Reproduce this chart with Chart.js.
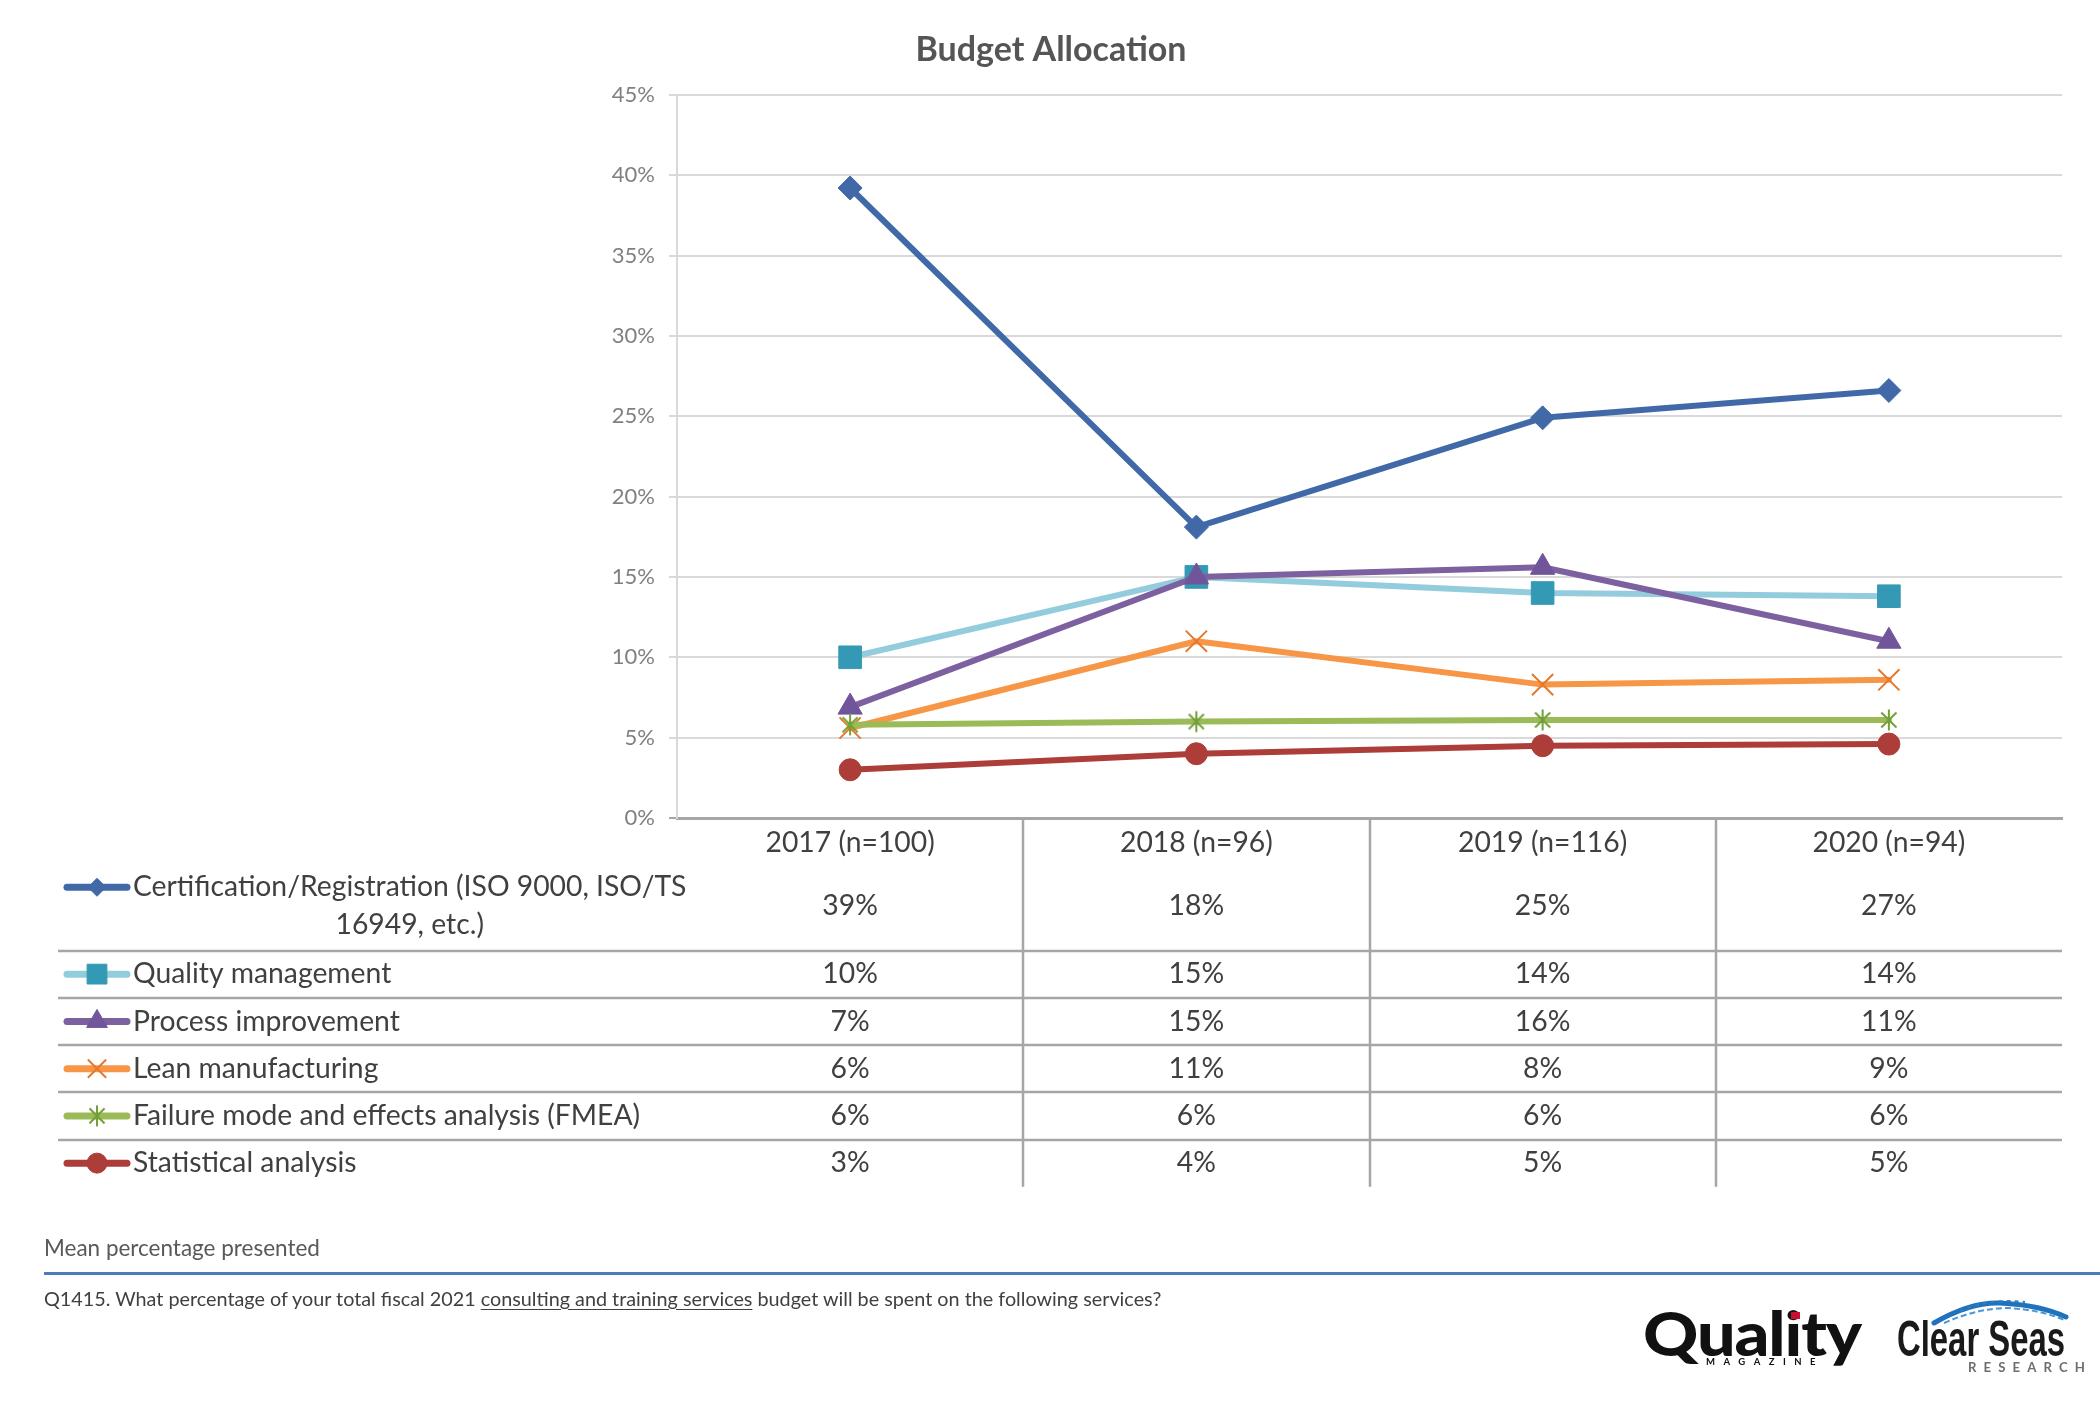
<!DOCTYPE html>
<html>
<head>
<meta charset="utf-8">
<script src="https://cdn.jsdelivr.net/npm/chart.js@4.4.1/dist/chart.umd.min.js"></script>
<style>
html,body{margin:0;padding:0;background:#fff;width:2100px;height:1406px;overflow:hidden;font-family:Lato,'Open Sans',sans-serif;}
#wrap{position:relative;width:2100px;height:1406px;}
#c{position:absolute;left:0;top:0;}
.ft{position:absolute;white-space:nowrap;line-height:1;transform-origin:0 0;}
#note{left:44px;color:#595959;}
#q{left:44px;color:#404040;}
#q u{text-decoration-thickness:1px;text-underline-offset:3px;}
#rule{position:absolute;left:44px;right:0;top:1272px;height:3px;background:#4a7ebb;}
#logoQ{left:1643px;font-weight:900;color:#111;letter-spacing:-1px;}
#logoDot{position:absolute;left:1791px;top:1312px;width:9px;height:7px;background:#c8102e;}
#logoMag{left:1706px;font-weight:700;color:#111;letter-spacing:8px;}
#logoCS{left:1897px;font-family:'Liberation Sans Narrow','Liberation Sans',Arial,sans-serif;font-weight:700;color:#1a1a1a;}
#logoR{left:1968px;font-weight:700;color:#6d6e70;letter-spacing:7px;}
#wave{position:absolute;left:1930px;top:1296px;}
</style>
</head>
<body>
<div id="wrap">
<canvas id="c" width="2100" height="1406"></canvas>
<div class="ft" id="note">Mean percentage presented</div>
<div id="rule"></div>
<div class="ft" id="q">Q1415. What percentage of your total fiscal 2021 <u>consulting and training services</u> budget will be spent on the following services?</div>
<div class="ft" id="logoQ">Quality</div>
<div id="logoDot"></div>
<div class="ft" id="logoMag">MAGAZINE</div>
<svg id="wave" width="140" height="32" viewBox="0 0 140 32">
  <path d="M4 27 Q 40 6 70 7 Q 110 9 136 21" fill="none" stroke="#1f72bb" stroke-width="5" stroke-linecap="round"/>
  <path d="M14 27 Q 48 12 78 12 Q 112 14 134 24" fill="none" stroke="#4a97d4" stroke-width="2" stroke-dasharray="6 3"/>
  <path d="M30 15 Q 60 2 95 6" fill="none" stroke="#2a7fc4" stroke-width="2" stroke-dasharray="4 4"/>
</svg>
<div class="ft" id="logoCS">Clear Seas</div>
<div class="ft" id="logoR">RESEARCH</div>
</div>
<script>
// ---------- data ----------
const chartTitle = 'Budget Allocation';
const categories = ['2017 (n=100)', '2018 (n=96)', '2019 (n=116)', '2020 (n=94)'];
const certificationRegistration = [39.2, 18.1, 24.9, 26.6];
const qualityManagement = [10.0, 15.0, 14.0, 13.8];
const processImprovement = [6.9, 15.0, 15.6, 11.0];
const leanManufacturing = [5.6, 11.0, 8.3, 8.6];
const failureModeEffects = [5.8, 6.0, 6.1, 6.1];
const statisticalAnalysis = [3.0, 4.0, 4.5, 4.6];
const seriesLabels = [
  ['Certification/Registration (ISO 9000, ISO/TS', '16949, etc.)'],
  ['Quality management'],
  ['Process improvement'],
  ['Lean manufacturing'],
  ['Failure mode and effects analysis (FMEA)'],
  ['Statistical analysis']
];
const seriesValues = [certificationRegistration, qualityManagement, processImprovement,
                      leanManufacturing, failureModeEffects, statisticalAnalysis];
const yMin = 0, yMax = 45, yStep = 5;

// ---------- styles ----------
function makeStar(color, size, lw) {
  const c = document.createElement('canvas');
  c.width = size; c.height = size;
  const g = c.getContext('2d');
  g.strokeStyle = color; g.lineWidth = lw;
  const m = size / 2, d = size / 2 - 1.5, e = d * 0.72;
  g.beginPath();
  g.moveTo(m - e, m - e); g.lineTo(m + e, m + e);
  g.moveTo(m + e, m - e); g.lineTo(m - e, m + e);
  g.moveTo(m, m - d); g.lineTo(m, m + d);
  g.stroke();
  return c;
}
const seriesStyles = [
  {line: '#4169a8', mark: '#4169a8', style: 'rectRot', r: 12, kr: 9, bw: 1},
  {line: '#93cddd', mark: '#3499b4', style: 'rect', r: 16, kr: 14, bw: 1},
  {line: '#7d60a0', mark: '#70559a', style: 'triangle', r: 14, kr: 12, bw: 1},
  {line: '#f79646', mark: '#e4792e', style: 'crossRot', r: 15, kr: 13, bw: 2},
  {line: '#9bbb59', mark: '#71a036', style: makeStar('#71a036', 24, 2), r: 12, kr: 10, bw: 2},
  {line: '#ad3d39', mark: '#ad3d39', style: 'circle', r: 11, kr: 10, bw: 1}
];

function drawKeyPoint(ctx, st, x, y) {
  ctx.fillStyle = st.mark; ctx.strokeStyle = st.mark; ctx.lineWidth = st.bw;
  if (window.Chart && Chart.helpers && Chart.helpers.drawPoint) {
    Chart.helpers.drawPoint(ctx, {pointStyle: st.style, radius: st.kr, borderWidth: st.bw, rotation: 0}, x, y);
  }
}

const dataTablePlugin = {
  id: 'dataTable',
  afterDraw(chart, args, o) {
    const ctx = chart.ctx, area = chart.chartArea, xs = chart.scales.x;
    const n = chart.data.labels.length;
    let top = area.bottom + o.headerHeight;
    const rows = chart.data.datasets.map((ds, k) => {
      const r = {top, h: o.rowHeight * ds.tableLabel.length, ds, k};
      top += r.h; return r;
    });
    const tableBottom = top;
    ctx.save();
    ctx.strokeStyle = o.ruleColor; ctx.lineWidth = o.ruleWidth;
    ctx.beginPath();
    for (let i = 1; i < n; i++) {
      const x = Math.round((xs.getPixelForTick(i - 1) + xs.getPixelForTick(i)) / 2);
      ctx.moveTo(x, area.bottom); ctx.lineTo(x, tableBottom);
    }
    rows.forEach((r, k) => {
      if (k < rows.length - 1) {
        const y = Math.round(r.top + r.h);
        ctx.moveTo(o.left, y); ctx.lineTo(area.right, y);
      }
    });
    ctx.stroke();

    ctx.font = o.fontSize + 'px Lato';
    ctx.textBaseline = 'middle';
    rows.forEach(r => {
      const ds = r.ds, st = seriesStyles[r.k];
      const cy = r.top + r.h / 2 + (ds.tableLabel.length > 1 ? 3 : 0);
      const lines = ds.tableLabel;
      const ys = lines.map((_, i) => cy + (i - (lines.length - 1) / 2) * o.lineGap);
      // key
      ctx.strokeStyle = st.line; ctx.lineWidth = o.keyWidth; ctx.lineCap = 'round';
      ctx.beginPath(); ctx.moveTo(o.keyLeft, ys[0]); ctx.lineTo(o.keyRight, ys[0]); ctx.stroke();
      ctx.lineCap = 'butt';
      drawKeyPoint(ctx, st, (o.keyLeft + o.keyRight) / 2, ys[0]);
      // label
      ctx.fillStyle = o.color;
      const w0 = ctx.measureText(lines[0]).width;
      lines.forEach((t, i) => {
        if (i === 0) { ctx.textAlign = 'left'; ctx.fillText(t, o.textLeft, ys[i]); }
        else { ctx.textAlign = 'center'; ctx.fillText(t, o.textLeft + w0 / 2, ys[i]); }
      });
      // values
      ctx.textAlign = 'center';
      ds.data.forEach((v, i) => {
        ctx.fillText(Math.round(v) + '%', xs.getPixelForTick(i), cy);
      });
    });
    ctx.restore();
  }
};

function fitWidth(el, size, target) {
  el.style.fontSize = size + 'px';
  const w = el.getBoundingClientRect().width;
  return size * target / w;
}
function placeByCenter(el, size, cy) {
  el.style.fontSize = size + 'px';
  el.style.top = (cy - 0.53 * size) + 'px';
}
function scaleTo(el, target) {
  el.style.transform = 'none';
  const w = el.getBoundingClientRect().width;
  el.style.transform = 'scaleX(' + (target / w) + ')';
}

function build() {
  Chart.defaults.font.family = 'Lato';
  const meas = document.createElement('canvas').getContext('2d');
  meas.font = '26px Lato';
  const tw = meas.measureText('Failure mode and effects analysis (FMEA)').width;
  const tableFont = Math.round(26 * 507 / tw * 10) / 10;

  const datasets = seriesValues.map((vals, k) => {
    const st = seriesStyles[k];
    return {
      label: seriesLabels[k].join(' '),
      tableLabel: seriesLabels[k],
      data: vals,
      borderColor: st.line,
      backgroundColor: st.line,
      borderWidth: 6,
      borderJoinStyle: 'round',
      borderCapStyle: 'round',
      tension: 0,
      fill: false,
      pointStyle: st.style,
      pointRadius: st.r,
      pointBackgroundColor: st.mark,
      pointBorderColor: st.mark,
      pointBorderWidth: st.bw,
      order: seriesValues.length - k
    };
  });

  new Chart(document.getElementById('c'), {
    type: 'line',
    data: {labels: categories, datasets},
    options: {
      responsive: false,
      animation: false,
      events: [],
      devicePixelRatio: 1,
      layout: {padding: {left: 40, right: 38, top: 0, bottom: 0}},
      plugins: {
        legend: {display: false},
        tooltip: {enabled: false},
        title: {
          display: true, text: chartTitle, color: '#555555',
          font: {family: 'Lato', size: 34, weight: 'bold'},
          padding: {top: 30, bottom: 24}
        },
        dataTable: {
          headerHeight: 38, rowHeight: 47.25, lineGap: 38,
          left: 58, keyLeft: 67, keyRight: 127, keyWidth: 7, textLeft: 133,
          fontSize: tableFont, color: '#404040',
          ruleColor: '#a6a6a6', ruleWidth: 2.5
        }
      },
      scales: {
        x: {
          offset: true,
          grid: {display: false},
          border: {display: true, color: '#a6a6a6', width: 3},
          ticks: {color: '#404040', font: {size: tableFont}, padding: 0, maxRotation: 0, autoSkip: false},
          afterFit: s => { s.height = 588; }
        },
        y: {
          min: yMin, max: yMax,
          ticks: {stepSize: yStep, callback: v => v + '%', color: '#808080', font: {size: 22}, padding: 14},
          grid: {
            color: c => (c.tick && c.tick.value === 0) ? '#a6a6a6' : '#d9d9d9',
            lineWidth: 2, tickLength: 8, drawTicks: true
          },
          border: {color: '#d9d9d9', width: 2},
          afterFit: s => { s.width = 637; }
        }
      }
    },
    plugins: [dataTablePlugin]
  });

  // footer text
  const note = document.getElementById('note');
  const ns = fitWidth(note, 20, 276);
  placeByCenter(note, ns, 1249);
  const q = document.getElementById('q');
  const qs = fitWidth(q, 18, 1118);
  placeByCenter(q, qs, 1299);

  // logos
  const lq = document.getElementById('logoQ');
  lq.style.fontSize = '61px'; lq.style.top = (1312 - 0.167 * 61) + 'px';
  scaleTo(lq, 218);
  const lm = document.getElementById('logoMag');
  lm.style.fontSize = '9px'; lm.style.top = '1357px';
  scaleTo(lm, 118);
  const lc = document.getElementById('logoCS');
  lc.style.fontSize = '50px'; lc.style.top = (1320 - 0.13 * 50) + 'px';
  scaleTo(lc, 168);
  const lr = document.getElementById('logoR');
  lr.style.fontSize = '13px'; lr.style.top = '1361px';
  scaleTo(lr, 124);
}

const loads = ['26px Lato', 'bold 30px Lato', '900 60px Lato', 'bold 50px "Liberation Sans Narrow"', 'bold 50px "Liberation Sans"']
  .map(f => document.fonts.load(f).catch(() => null));
Promise.all(loads).then(build, build);
</script>
</body>
</html>
